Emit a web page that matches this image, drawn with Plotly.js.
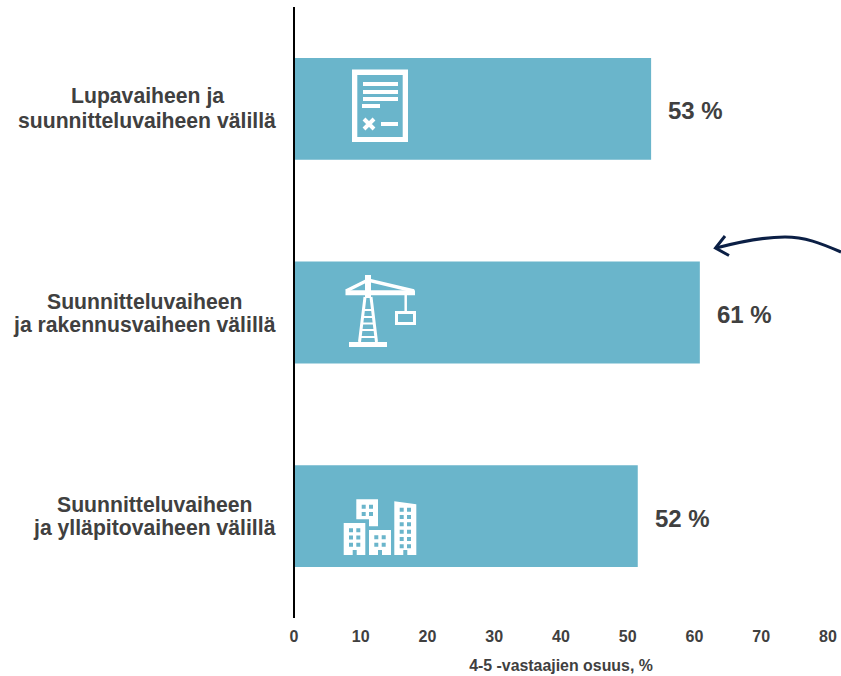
<!DOCTYPE html>
<html><head><meta charset="utf-8">
<script src="https://cdn.plot.ly/plotly-3.0.1.min.js"></script>
<style>html,body{margin:0;padding:0;background:#fff}</style></head>
<body><div id="chart" style="width:841px;height:676px"></div>
<script>
const categories = ["Lupavaiheen ja<br>suunnitteluvaiheen välillä","Suunnitteluvaiheen<br>ja rakennusvaiheen välillä","Suunnitteluvaiheen<br>ja ylläpitovaiheen välillä"];
const values = [53.5, 60.8, 51.5];
const valueLabels = ["53 %","61 %","52 %"];
const xTicks = [0,10,20,30,40,50,60,70,80];
const xTitle = "4-5 -vastaajien osuus, %";
const labelCentres = [147,144,154];
const labelShifts = [[12.8,-11.2],[11.5,-12.5],[12,-12]];
const BAR = "#6AB5CB", INK = "#404040", ARROW = "#0B1F45";
const FONT = "Liberation Sans, Arial, sans-serif";
const W = 841, H = 676, L = 294, R = 828, T = 7, B = 618;

function toPaper(d){
  return d.replace(/(-?[\d.]+) (-?[\d.]+)/g,(m,x,y)=>((+x-L)/(R-L)).toFixed(5)+","+((B-+y)/(B-T)).toFixed(5));
}
function rect(x0,y0,x1,y1){return `M${x0} ${y0} L${x1} ${y0} L${x1} ${y1} L${x0} ${y1} Z `;}
function fill(d,c){return {type:"path",xref:"paper",yref:"paper",path:toPaper(d),fillcolor:c,line:{width:0},layer:"above"};}
function stroke(d,c,w){return {type:"path",xref:"paper",yref:"paper",path:toPaper(d),fillcolor:"rgba(0,0,0,0)",line:{color:c,width:w},layer:"above"};}
const grid=(xs,ys,w,h)=>xs.flatMap(x=>ys.map(y=>rect(x,y,x+w,y+h))).join("");

const shapes = [
  stroke("M294 7 L294 618","#000",2),
  fill(rect(352,69.5,408,142),"#fff"),
  fill(rect(357.3,75,402.7,137),BAR),
  fill(rect(363,82,398,86)+rect(363,90,398,94)+rect(363,97,398,101)+rect(362,104,380,108)+rect(381,122,398,126),"#fff"),
  stroke("M364 119 L374 129 M374 119 L364 129","#fff",4),
  fill(rect(349,342,387,347),"#fff"),
  stroke("M365 297 L359.5 342 M371 297 L376.5 342","#fff",3),
  stroke("M364 310 L372 310 M363 317 L373 317 M362.5 323.5 L373.5 323.5 M362 330 L374 330 M361 337 L375 337","#fff",2),
  stroke("M368 275 L368 298","#fff",6),
  stroke("M345.5 292.7 L415 292.7","#fff",5),
  stroke("M346 291 L368 280 L414 291","#fff",3.5),
  stroke("M405.7 293 L405.7 312","#fff",2.5),
  stroke(rect(396.5,312.5,414.5,323.5),"#fff",3),
  fill(rect(343.7,523,365.3,555)+rect(369,530,391,555)+"M356.3 499.3 L378 499.3 L378 526.3 L369 526.3 L369 519.3 L356.3 519.3 Z M394.3 501.3 L416.3 504.3 L416.3 555 L394.3 555 Z","#fff"),
  fill(grid([349,356.3],[528.3,535.6,542.7],4,4)+rect(352.7,550,356.7,555)
      +grid([374.3,381.7],[535.3,542.7],4,4)+rect(378,550,382,555)
      +grid([361.7,369],[504.7,512],4,4)
      +grid([399.7,407],[507.7,515,522.3,529.7,537,544.3],4,4)+rect(403.3,550,407.3,555),BAR),
  stroke("M841 252 C820 243 805 237 785 237 C760 237 735 243 716 248",ARROW,3),
  stroke("M725 236 L715.5 248 L729 255.5",ARROW,3)
];

const annotations = [
  ...categories.flatMap((c,i)=>c.split("<br>").map((line,j)=>({xref:"paper",yref:"y",x:(labelCentres[i]-L)/(R-L),xanchor:"center",y:c,yanchor:"middle",yshift:labelShifts[i][j],
      text:"<b>"+line+"</b>",showarrow:false,align:"center",
      font:{family:FONT,size:21.2,color:INK}}))),
  ...values.map((v,i)=>({xref:"x",yref:"y",x:v,xanchor:"left",xshift:15,y:categories[i],yshift:-2,text:"<b>"+valueLabels[i]+"</b>",showarrow:false,
      font:{family:FONT,size:24,color:INK}}))
];

Plotly.newPlot("chart",[{
  type:"bar",orientation:"h",x:values,y:categories,width:0.5,marker:{color:BAR,line:{width:0}},hoverinfo:"none"
}],{
  width:W,height:H,margin:{l:L,r:W-R,t:T,b:H-B,pad:0},
  paper_bgcolor:"#fff",plot_bgcolor:"#fff",showlegend:false,
  xaxis:{range:[0,80],tickvals:xTicks,ticktext:xTicks.map(String),showgrid:false,zeroline:false,showline:false,ticks:"",
    ticklabelstandoff:7,
    tickfont:{family:FONT,size:16,color:INK,weight:"bold"},
    title:{text:"<b>"+xTitle+"</b>",standoff:15,font:{family:FONT,size:15.9,color:INK}}},
  yaxis:{type:"category",categoryorder:"array",categoryarray:categories,autorange:"reversed",showticklabels:false,showgrid:false,zeroline:false,showline:false,ticks:""},
  shapes,annotations
},{displayModeBar:false,staticPlot:true});
</script></body></html>
